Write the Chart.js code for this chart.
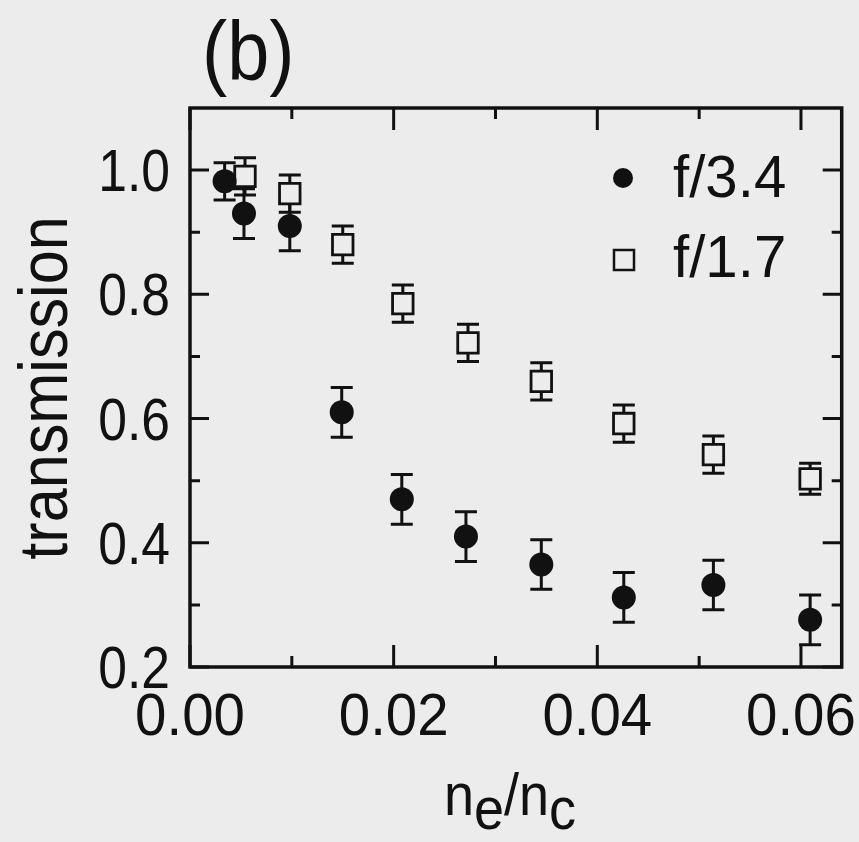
<!DOCTYPE html>
<html>
<head>
<meta charset="utf-8">
<script src="https://cdn.jsdelivr.net/npm/chart.js@4"></script>
<style>
  html, body { margin: 0; padding: 0; background: #ececec; }
  #wrap { width: 859px; height: 842px; }
</style>
</head>
<body>
<div id="wrap"><canvas id="plot" width="859" height="842"></canvas></div>
<script>
// Дані з графіка (b): пропускання від n_e/n_c
const xF34 = [0.0034, 0.0053, 0.0098, 0.0149, 0.0208, 0.0271, 0.0345, 0.0426, 0.0514, 0.0609];
const yF34 = [0.982, 0.93, 0.91, 0.61, 0.47, 0.41, 0.365, 0.312, 0.332, 0.276];
const errF34 = [0.03, 0.04, 0.04, 0.04, 0.04, 0.04, 0.04, 0.04, 0.04, 0.04];

const xF17 = [0.0054, 0.0098, 0.015, 0.0209, 0.0273, 0.0345, 0.0426, 0.0514, 0.0609];
const yF17 = [0.99, 0.962, 0.88, 0.785, 0.722, 0.66, 0.592, 0.542, 0.503];
const errF17 = [0.03, 0.03, 0.03, 0.03, 0.03, 0.03, 0.03, 0.03, 0.025];

const seriesNames = ["f/3.4", "f/1.7"];
const xTicks = [0, 0.02, 0.04, 0.06];
const yTicks = [0.2, 0.4, 0.6, 0.8, 1.0];
const xMinor = [0.01, 0.03, 0.05];
const yMinor = [0.3, 0.5, 0.7, 0.9];

const BG = "#ececec";
const INK = "#111";
const FONT = '"Liberation Sans", Arial, sans-serif';

const toPoints = (xs, ys, es) => xs.map((x, i) => ({ x: x, y: ys[i], e: es[i] }));

// текст, трохи стиснутий по горизонталі (в оригіналі вузький шрифт)
function narrowText(ctx, txt, x, y, sx, align) {
    ctx.save();
    ctx.translate(x, y);
    ctx.scale(sx, 1);
    ctx.textAlign = align || "left";
    ctx.fillText(txt, 0, 0);
    ctx.restore();
}

// Фон, рамка, тіки всередину, похибки, легенда і підписи осей
const decor = {
    id: "decor",
    beforeDraw(chart) {
        const ctx = chart.ctx;
        ctx.save();
        ctx.fillStyle = BG;
        ctx.fillRect(0, 0, chart.width, chart.height);
        ctx.restore();
    },
    beforeDatasetsDraw(chart) {
        const ctx = chart.ctx;
        const xs = chart.scales.x, ys = chart.scales.y;
        ctx.save();
        ctx.strokeStyle = INK;
        ctx.lineWidth = 3;
        chart.data.datasets.forEach(ds => {
            ds.data.forEach(p => {
                const px = xs.getPixelForValue(p.x);
                const top = ys.getPixelForValue(p.y + p.e);
                const bot = ys.getPixelForValue(p.y - p.e);
                ctx.beginPath();
                ctx.moveTo(px, top); ctx.lineTo(px, bot);
                ctx.moveTo(px - 11, top); ctx.lineTo(px + 11, top);
                ctx.moveTo(px - 11, bot); ctx.lineTo(px + 11, bot);
                ctx.stroke();
            });
        });
        ctx.restore();
    },
    afterDraw(chart) {
        const ctx = chart.ctx;
        const a = chart.chartArea;
        const xs = chart.scales.x, ys = chart.scales.y;
        ctx.save();
        ctx.strokeStyle = INK;
        ctx.fillStyle = INK;
        ctx.lineWidth = 3.5;
        ctx.strokeRect(a.left, a.top, a.right - a.left, a.bottom - a.top);

        // тіки на всіх чотирьох сторонах
        ctx.lineWidth = 3;
        const tickX = (v, len) => {
            const px = xs.getPixelForValue(v);
            ctx.beginPath();
            ctx.moveTo(px, a.bottom); ctx.lineTo(px, a.bottom - len);
            ctx.moveTo(px, a.top); ctx.lineTo(px, a.top + len);
            ctx.stroke();
        };
        const tickY = (v, len) => {
            const py = ys.getPixelForValue(v);
            ctx.beginPath();
            ctx.moveTo(a.left, py); ctx.lineTo(a.left + len, py);
            ctx.moveTo(a.right, py); ctx.lineTo(a.right - len, py);
            ctx.stroke();
        };
        xTicks.forEach(v => tickX(v, 22));
        xMinor.forEach(v => tickX(v, 11));
        yTicks.forEach(v => tickY(v, 19));
        yMinor.forEach(v => tickY(v, 10));

        // підписи тіків (з тіків самої шкали)
        ctx.font = "60px " + FONT;
        ctx.textBaseline = "alphabetic";
        xs.ticks.forEach(t => {
            narrowText(ctx, t.value.toFixed(2), xs.getPixelForValue(t.value), a.bottom + 68, 0.94, "center");
        });
        ys.ticks.forEach(t => {
            narrowText(ctx, t.value.toFixed(1), a.left - 20, ys.getPixelForValue(t.value) + 21, 0.86, "right");
        });

        // легенда всередині
        ctx.beginPath();
        ctx.arc(a.left + 433, a.top + 70, 10, 0, Math.PI * 2);
        ctx.fill();
        ctx.fillStyle = BG;
        ctx.lineWidth = 2.5;
        ctx.fillRect(a.left + 424, a.top + 142, 20, 20);
        ctx.strokeRect(a.left + 424, a.top + 142, 20, 20);
        ctx.fillStyle = INK;
        narrowText(ctx, seriesNames[0], a.left + 483, a.top + 89, 0.97);
        narrowText(ctx, seriesNames[1], a.left + 483, a.top + 169, 0.97);

        // (b)
        ctx.font = "84px " + FONT;
        narrowText(ctx, "(b)", 202, 80, 0.9);

        // підпис осі Y
        ctx.save();
        ctx.translate(67, 388);
        ctx.rotate(-Math.PI / 2);
        ctx.font = "68px " + FONT;
        narrowText(ctx, "transmission", 0, 0, 0.9, "center");
        ctx.restore();

        // підпис осі X з індексами
        ctx.font = "60px " + FONT;
        const sx = 0.9;
        const parts = [["n", 0], ["e", 14], ["/n", 0], ["c", 14]];
        let total = 0;
        parts.forEach(p => total += ctx.measureText(p[0]).width * sx);
        let cx = 510 - total / 2;
        parts.forEach(p => {
            narrowText(ctx, p[0], cx, 815 + p[1], sx);
            cx += ctx.measureText(p[0]).width * sx;
        });
        ctx.restore();
    }
};

new Chart(document.getElementById("plot").getContext("2d"), {
    type: "scatter",
    plugins: [decor],
    data: {
        datasets: [
            {
                label: seriesNames[0],
                data: toPoints(xF34, yF34, errF34),
                pointStyle: "circle",
                pointRadius: 12,
                backgroundColor: INK,
                borderColor: INK,
                borderWidth: 0
            },
            {
                label: seriesNames[1],
                data: toPoints(xF17, yF17, errF17),
                pointStyle: "rect",
                pointRadius: 14.5,
                backgroundColor: BG,
                borderColor: INK,
                borderWidth: 2.8
            }
        ]
    },
    options: {
        responsive: false,
        animation: false,
        layout: { padding: { top: 108, right: 14, left: 0, bottom: 0 } },
        plugins: { legend: { display: false }, tooltip: { enabled: false } },
        scales: {
            x: {
                type: "linear",
                min: 0,
                max: 0.064,
                afterBuildTicks: s => { s.ticks = xTicks.map(v => ({ value: v })); },
                afterFit: s => { s.height = 175; s.paddingLeft = 0; s.paddingRight = 0; },
                grid: { display: false, drawTicks: false },
                border: { display: false },
                ticks: { display: false }
            },
            y: {
                type: "linear",
                min: 0.2,
                max: 1.1,
                afterBuildTicks: s => { s.ticks = yTicks.map(v => ({ value: v })); },
                afterFit: s => { s.width = 190; s.paddingTop = 0; s.paddingBottom = 0; },
                grid: { display: false, drawTicks: false },
                border: { display: false },
                ticks: { display: false }
            }
        }
    }
});
</script>
</body>
</html>
